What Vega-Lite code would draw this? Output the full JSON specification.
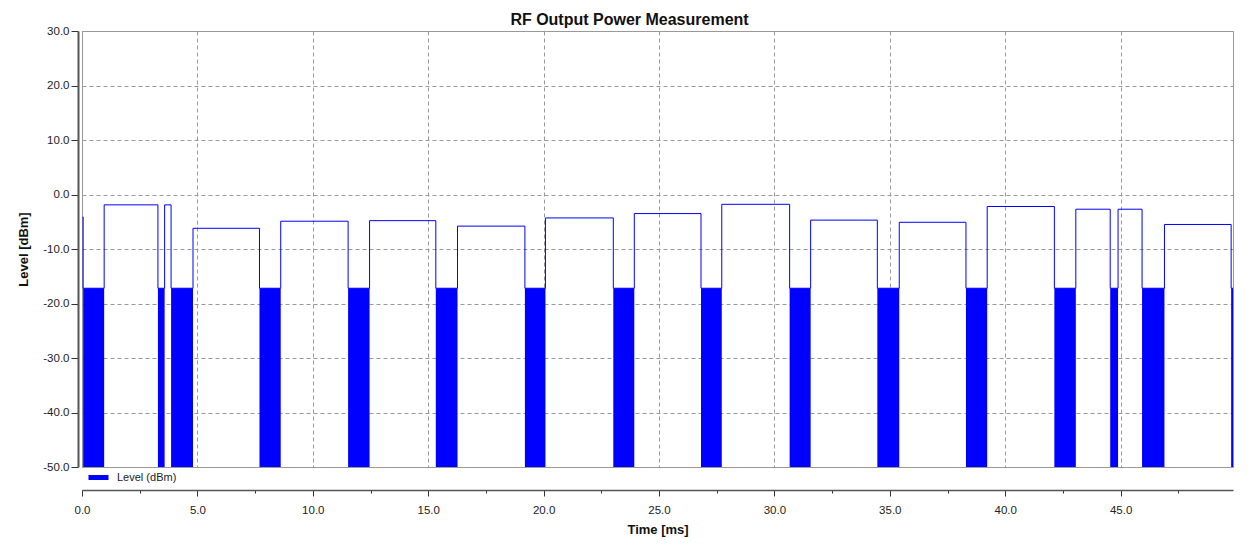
{
  "$schema": "https://vega.github.io/schema/vega-lite/v6.json",
  "width": 1151,
  "height": 436,
  "autosize": {"type": "none"},
  "padding": {"left": 82, "top": 31, "right": 26, "bottom": 84},
  "background": "white",
  "title": {"text": "RF Output Power Measurement", "font": "Liberation Sans", "fontSize": 16, "fontWeight": "bold", "color": "#111111", "anchor": "middle", "dx": -28, "dy": 8, "offset": 5},
  "config": {
    "view": {"stroke": "#999999", "strokeWidth": 1},
    "axis": {
      "labelFont": "Liberation Sans", "labelFontSize": 11.5, "labelColor": "#222222",
      "titleFont": "Liberation Sans", "titleFontSize": 13, "titleFontWeight": "bold", "titleColor": "#111111",
      "gridColor": "#999999", "gridDash": [4, 3], "gridWidth": 1,
      "domainColor": "#555555", "tickColor": "#333333"
    },
    "legend": {"labelFont": "Liberation Sans", "labelFontSize": 11, "labelColor": "#222222"}
  },
  "datasets": {
    "trace": [
      {"t": 0.03, "level": -4.1, "series": "Level (dBm)"},
      {"t": 0.05, "level": -17.2, "series": "Level (dBm)"},
      {"t": 0.96, "level": -1.9, "series": "Level (dBm)"},
      {"t": 3.29, "level": -17.2, "series": "Level (dBm)"},
      {"t": 3.58, "level": -1.9, "series": "Level (dBm)"},
      {"t": 3.86, "level": -17.2, "series": "Level (dBm)"},
      {"t": 4.81, "level": -6.2, "series": "Level (dBm)"},
      {"t": 7.69, "level": -17.2, "series": "Level (dBm)"},
      {"t": 8.61, "level": -4.9, "series": "Level (dBm)"},
      {"t": 11.53, "level": -17.2, "series": "Level (dBm)"},
      {"t": 12.46, "level": -4.8, "series": "Level (dBm)"},
      {"t": 15.33, "level": -17.2, "series": "Level (dBm)"},
      {"t": 16.27, "level": -5.8, "series": "Level (dBm)"},
      {"t": 19.19, "level": -17.2, "series": "Level (dBm)"},
      {"t": 20.08, "level": -4.3, "series": "Level (dBm)"},
      {"t": 23.02, "level": -17.2, "series": "Level (dBm)"},
      {"t": 23.93, "level": -3.5, "series": "Level (dBm)"},
      {"t": 26.82, "level": -17.2, "series": "Level (dBm)"},
      {"t": 27.72, "level": -1.8, "series": "Level (dBm)"},
      {"t": 30.66, "level": -17.2, "series": "Level (dBm)"},
      {"t": 31.57, "level": -4.7, "series": "Level (dBm)"},
      {"t": 34.46, "level": -17.2, "series": "Level (dBm)"},
      {"t": 35.41, "level": -5.1, "series": "Level (dBm)"},
      {"t": 38.30, "level": -17.2, "series": "Level (dBm)"},
      {"t": 39.22, "level": -2.2, "series": "Level (dBm)"},
      {"t": 42.13, "level": -17.2, "series": "Level (dBm)"},
      {"t": 43.06, "level": -2.7, "series": "Level (dBm)"},
      {"t": 44.55, "level": -17.2, "series": "Level (dBm)"},
      {"t": 44.89, "level": -2.7, "series": "Level (dBm)"},
      {"t": 45.93, "level": -17.2, "series": "Level (dBm)"},
      {"t": 46.90, "level": -5.5, "series": "Level (dBm)"},
      {"t": 49.79, "level": -17.2, "series": "Level (dBm)"},
      {"t": 49.87, "level": -17.2, "series": "Level (dBm)"}
    ],
    "blocks": [
      {"start": 0.05, "end": 0.96, "floor": -50, "top": -17.2},
      {"start": 3.29, "end": 3.58, "floor": -50, "top": -17.2},
      {"start": 3.86, "end": 4.81, "floor": -50, "top": -17.2},
      {"start": 7.69, "end": 8.61, "floor": -50, "top": -17.2},
      {"start": 11.53, "end": 12.46, "floor": -50, "top": -17.2},
      {"start": 15.33, "end": 16.27, "floor": -50, "top": -17.2},
      {"start": 19.19, "end": 20.08, "floor": -50, "top": -17.2},
      {"start": 23.02, "end": 23.93, "floor": -50, "top": -17.2},
      {"start": 26.82, "end": 27.72, "floor": -50, "top": -17.2},
      {"start": 30.66, "end": 31.57, "floor": -50, "top": -17.2},
      {"start": 34.46, "end": 35.41, "floor": -50, "top": -17.2},
      {"start": 38.30, "end": 39.22, "floor": -50, "top": -17.2},
      {"start": 42.13, "end": 43.06, "floor": -50, "top": -17.2},
      {"start": 44.55, "end": 44.89, "floor": -50, "top": -17.2},
      {"start": 45.93, "end": 46.90, "floor": -50, "top": -17.2},
      {"start": 49.79, "end": 49.87, "floor": -50, "top": -17.2}
    ]
  },
  "layer": [
    {
      "data": {"name": "blocks"},
      "mark": {"type": "rect", "color": "#0000ff"},
      "encoding": {
        "x": {
          "field": "start", "type": "quantitative", "title": "Time [ms]",
          "scale": {"domain": [0, 49.87], "nice": false, "zero": false},
          "axis": {
            "values": [0, 2.5, 5, 7.5, 10, 12.5, 15, 17.5, 20, 22.5, 25, 27.5, 30, 32.5, 35, 37.5, 40, 42.5, 45, 47.5],
            "labelExpr": "datum.value % 5 === 0 ? format(datum.value, '.1f') : ''",
            "tickSize": {"condition": {"test": "datum.value % 5 === 0", "value": 6}, "value": 3},
            "gridOpacity": {"condition": {"test": "datum.value % 5 === 0", "value": 1}, "value": 0},
            "offset": 23, "domainWidth": 1.5, "labelPadding": 8, "titlePadding": 8, "labelFlush": false
          }
        },
        "x2": {"field": "end"},
        "y": {
          "field": "floor", "type": "quantitative", "title": "Level [dBm]",
          "scale": {"domain": [-50, 30], "nice": false, "zero": false},
          "axis": {
            "values": [-50, -45, -40, -35, -30, -25, -20, -15, -10, -5, 0, 5, 10, 15, 20, 25, 30],
            "labelExpr": "datum.value % 10 === 0 ? (datum.value < 0 ? '-' : '') + format(abs(datum.value), '.1f') : ''",
            "tickSize": {"condition": {"test": "datum.value % 10 === 0", "value": 7}, "value": 4},
            "gridOpacity": {"condition": {"test": "datum.value % 10 === 0", "value": 1}, "value": 0},
            "offset": 4, "domainWidth": 2, "labelPadding": 2, "titlePadding": 12, "labelFlush": false
          }
        },
        "y2": {"field": "top"}
      }
    },
    {
      "data": {"name": "trace"},
      "mark": {"type": "line", "interpolate": "step-after", "strokeWidth": 1},
      "encoding": {
        "x": {"field": "t", "type": "quantitative", "title": "Time [ms]"},
        "y": {"field": "level", "type": "quantitative", "title": "Level [dBm]"},
        "color": {
          "field": "series", "type": "nominal",
          "scale": {"range": ["#0000ff"]},
          "legend": {"title": null, "orient": "none", "legendX": 4, "legendY": 434, "padding": 0, "symbolType": "stroke", "symbolStrokeWidth": 5, "symbolSize": 400, "labelOffset": 6}
        }
      }
    }
  ]
}
